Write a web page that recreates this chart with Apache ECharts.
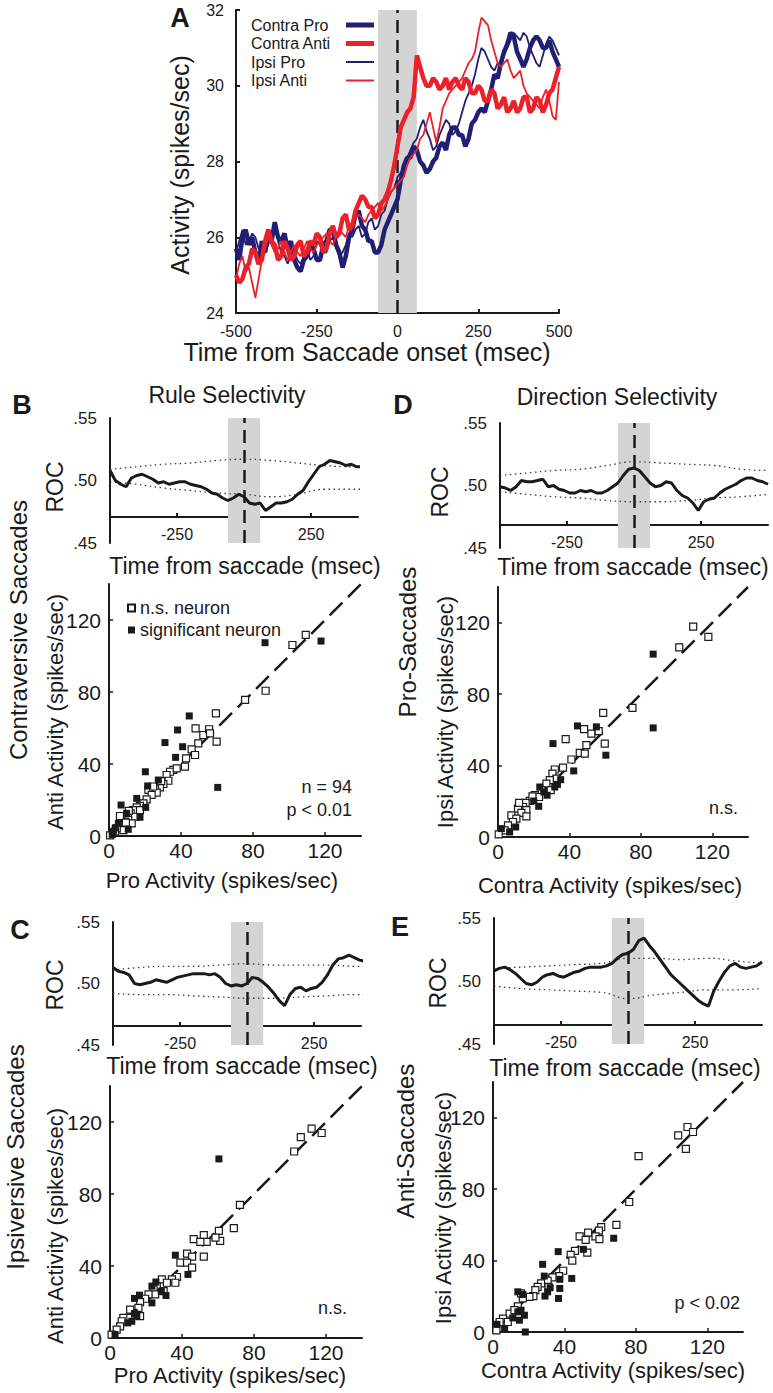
<!DOCTYPE html>
<html><head><meta charset="utf-8">
<script src="https://cdn.jsdelivr.net/npm/echarts@6/dist/echarts.min.js"></script>
<style>html,body{margin:0;padding:0;background:#fff}#c{width:773px;height:1393px}</style>
</head><body><div id="c"></div>
<script>
// ---------------- DATA ----------------
// Panel A time base (ms, 10 ms steps)
const TA = [-500,-490,-480,-470,-460,-450,-440,-430,-420,-410,
 -400,-390,-380,-370,-360,-350,-340,-330,-320,-310,
 -300,-290,-280,-270,-260,-250,-240,-230,-220,-210,
 -200,-190,-180,-170,-160,-150,-140,-130,-120,-110,
 -100,-90,-80,-70,-60,-50,-40,-30,-20,-10,
 0,10,20,30,40,50,60,70,80,90,
 100,110,120,130,140,150,160,170,180,190,
 200,210,220,230,240,250,260,270,280,290,
 300,310,320,330,340,350,360,370,380,390,
 400,410,420,430,440,450,460,470,480,490,
 500];
// ROC time base (ms, 20 ms steps)
const T = [-500,-480,-460,-440,-420,-400,-380,-360,-340,-320,-300,-280,-260,-240,-220,-200,-180,-160,-140,-120,-100,-80,-60,-40,-20,0,20,40,60,80,100,120,140,160,180,200,220,240,260,280,300,320,340,360,380,400,420,440,460,480,500];
const BOUND_T = [-500,-400,-300,-200,-100,0,100,200,300,400,500];
const SACCADE_WINDOW = [-60, 60];
const DIAG = [0, 140];

// Panel A: population activity (spikes/sec)
const CONTRA_PRO = [25.7,25.4,26.0,26.2,25.8,26.0,25.6,25.3,25.9,25.6,
 26.1,25.9,26.4,26.0,25.9,26.1,25.7,25.9,25.4,25.2,
 25.1,25.4,25.5,25.8,25.7,25.4,25.4,25.8,25.9,26.2,
 26.2,25.8,25.6,25.2,25.5,26.0,26.2,26.6,26.7,26.3,
 26.2,25.9,25.9,25.6,25.6,25.8,26.2,26.4,26.6,26.8,
 27.0,27.5,27.9,28.1,28.1,28.4,28.3,28.0,27.9,27.7,
 27.8,28.0,28.1,28.4,28.5,28.3,28.7,28.9,28.9,28.7,
 28.7,28.4,28.6,29.0,29.1,29.3,29.4,29.3,29.6,29.9,
 30.3,30.2,30.6,30.9,31.1,31.4,31.3,30.9,30.7,30.5,
 30.7,31.0,31.2,31.3,31.2,31.0,31.0,31.2,30.9,30.7,
 30.5];
const CONTRA_ANTI = [25.0,24.8,24.9,25.2,25.3,25.7,25.6,25.3,25.4,25.9,
 26.2,25.9,25.8,25.4,25.5,25.9,25.7,25.4,25.5,25.8,
 25.9,25.5,25.6,25.9,25.8,26.1,26.0,25.6,25.7,26.1,
 26.3,26.0,26.1,26.5,26.6,26.2,26.3,26.7,26.9,27.1,
 27.0,26.8,26.8,26.5,26.6,26.9,27.0,27.2,27.5,27.9,
 28.4,28.9,29.1,29.3,29.4,29.7,30.8,30.5,30.2,30.0,
 30.0,30.2,30.1,29.9,30.0,30.2,29.9,30.1,30.2,30.0,
 29.9,30.2,30.1,29.8,29.8,30.0,29.9,29.6,29.6,29.9,
 29.8,29.4,29.5,29.7,29.3,29.4,29.6,29.3,29.4,29.7,
 29.7,29.3,29.4,29.7,29.6,29.3,29.5,29.8,29.9,30.2,
 30.5];
const IPSI_PRO = [25.6,25.9,26.2,25.8,25.9,26.1,26.0,25.7,25.5,25.6,
 25.8,26.1,26.3,25.9,25.6,25.5,25.3,25.5,25.6,25.4,
 25.3,25.5,25.7,25.4,25.5,25.9,25.8,25.6,25.6,25.9,
 26.0,25.7,25.5,25.6,25.8,26.1,26.0,26.2,26.3,26.0,
 26.1,26.4,26.5,26.2,26.3,26.6,26.7,27.0,27.2,27.3,
 27.6,27.7,27.8,28.1,28.3,28.5,28.6,28.9,29.1,28.8,
 28.6,28.3,28.4,28.7,28.9,29.1,29.0,28.7,28.8,29.0,
 29.3,29.6,29.8,30.0,30.3,30.7,31.0,30.9,30.7,30.5,
 30.4,30.6,30.5,30.8,31.0,31.2,31.4,31.3,31.2,31.4,
 31.3,31.0,30.8,30.6,30.5,30.8,31.1,31.3,31.2,31.0,
 30.8];
const IPSI_ANTI = [24.9,25.3,25.5,25.1,25.2,24.8,24.4,24.9,25.4,25.7,
 26.0,25.8,25.6,25.7,25.9,25.6,25.4,25.6,25.8,25.6,
 25.5,25.7,25.9,25.7,25.6,25.8,25.9,26.0,26.1,25.9,
 25.8,26.0,26.2,26.1,26.0,26.3,26.4,26.5,26.6,26.5,
 26.4,26.6,26.7,26.8,26.9,26.7,26.8,27.0,27.2,27.3,
 27.4,27.5,27.6,27.9,28.1,28.2,28.3,28.6,28.7,29.0,
 29.3,28.9,28.5,28.9,29.4,29.6,29.8,29.9,30.0,30.1,
 30.2,30.4,30.6,30.7,30.9,31.4,31.8,31.7,31.6,31.2,
 30.9,30.6,30.5,30.6,30.7,30.4,30.2,30.3,30.4,30.0,
 29.8,29.7,29.6,29.5,29.4,29.7,29.9,29.6,29.2,29.1,
 30.1];

// ROC curves
const B_ROC = [0.508,0.500,0.497,0.495,0.502,0.504,0.505,0.503,0.501,0.498,
 0.499,0.497,0.498,0.499,0.499,0.497,0.496,0.495,0.493,0.490,
 0.489,0.486,0.484,0.486,0.489,
 0.487,
 0.482,0.481,0.482,0.476,0.479,0.482,0.482,0.483,0.485,0.489,
 0.492,0.499,0.505,0.511,0.513,0.516,0.515,0.514,0.512,0.513,
 0.511,0.511,0.510,0.510,null];
const B_UP = [0.509,0.511,0.513,0.514,0.516,0.517,0.516,0.514,0.512,0.511,0.511];
const B_LO = [0.499,0.497,0.494,0.492,0.490,0.489,0.487,0.489,0.493,0.493,0.493];

const D_ROC = [0.499,0.498,0.496,0.499,0.504,0.503,0.503,0.504,0.505,0.499,
 0.500,0.497,0.496,0.494,0.494,0.496,0.495,0.496,0.494,0.494,
 0.496,0.499,0.502,0.508,0.513,
 0.514,
 0.512,0.507,0.502,0.499,0.500,0.503,0.502,0.496,0.492,0.490,
 0.486,0.480,0.487,0.489,0.490,0.494,0.497,0.499,0.501,0.504,
 0.506,0.506,0.504,0.503,0.501];
const D_UP = [0.508,0.510,0.512,0.513,0.516,0.519,0.518,0.517,0.516,0.513,0.512];
const D_LO = [0.495,0.493,0.491,0.490,0.488,0.487,0.487,0.488,0.490,0.491,0.493];

const C_ROC = [0.513,0.510,0.509,0.507,0.500,0.499,0.500,0.501,0.503,0.502,
 0.501,0.503,0.505,0.506,0.507,0.508,0.508,0.508,0.507,0.508,
 0.505,0.500,0.498,0.499,0.498,
 0.500,
 0.505,0.504,0.501,0.497,0.492,0.486,0.482,0.491,0.496,0.497,
 0.494,0.496,0.497,0.501,0.507,0.515,0.520,0.521,0.523,0.521,
 0.519,0.518,0.520,0.520,null];
const C_UP = [0.511,0.513,0.514,0.514,0.515,0.516,0.515,0.515,0.515,0.514,0.514];
const C_LO = [0.492,0.491,0.491,0.490,0.489,0.488,0.488,0.489,0.490,0.491,0.491];

const E_ROC = [0.508,0.510,0.511,0.509,0.506,0.502,0.498,0.497,0.499,0.503,
 0.505,0.506,0.504,0.503,0.505,0.507,0.508,0.510,0.511,0.511,
 0.511,0.512,0.514,0.518,0.521,
 0.522,
 0.525,0.532,0.534,0.528,0.523,0.517,0.511,0.505,0.501,0.497,
 0.493,0.489,0.485,0.482,0.480,0.492,0.500,0.507,0.512,0.514,
 0.511,0.510,0.511,0.512,0.515];
const E_UP = [0.510,0.511,0.512,0.513,0.514,0.518,0.518,0.517,0.518,0.516,0.514];
const E_LO = [0.496,0.494,0.493,0.492,0.491,0.486,0.489,0.491,0.493,0.493,0.494];

// Scatter: [x, y] spikes/sec
const B_SIG = [[86.7,107.4],[117.8,108.3],[44.6,66.7],[38.1,58.9],[31.1,51.9],[40.9,49.6],[37.0,43.7],[60.4,27.0],[20.2,35.7],[21.5,27.8],[27.4,31.1],[6.7,17.2],[15.4,20.9],[20.4,15.9],[17.2,10.4],[10.7,3.7],[5.2,7.0],[2.4,2.4],[9.8,12.6],[3.5,4.5],[1.8,0.8]];
const B_NS = [[109.3,111.7],[101.9,106.1],[87.0,80.7],[75.6,75.6],[59.4,68.1],[48.1,59.8],[52.4,56.1],[55.6,59.3],[56.1,57.0],[59.8,52.4],[49.6,51.5],[45.9,48.1],[47.8,45.0],[42.8,43.1],[42.2,38.5],[35.7,36.7],[33.9,35.7],[32.0,33.9],[33.0,30.7],[30.2,28.9],[28.3,27.0],[25.6,25.9],[21.9,25.6],[26.5,24.1],[23.7,22.8],[20.9,20.4],[19.1,18.1],[17.2,16.7],[15.4,15.9],[13.5,14.4],[12.0,12.6],[14.4,10.7],[10.7,8.9],[8.9,8.0],[7.0,6.1],[12.6,7.0],[8.0,3.3],[4.3,4.3],[0.6,0.4],[3.3,2.4],[6.1,11.1],[9.4,7.4],[17.2,14.4],[37.6,37.6],[29.0,30.5],[24.5,27.5],[11.0,14.0]];
const D_SIG = [[86.9,102.4],[86.9,61.1],[44.5,62.2],[55.1,61.7],[30.8,52.3],[60.4,45.8],[42.4,37.0],[35.1,32.1],[33.3,29.5],[23.4,28.0],[27.5,23.4],[22.8,17.2],[25.6,25.2],[9.9,5.6],[6.5,2.8],[1.9,4.7],[20.0,20.2],[31.8,28.0]];
const D_NS = [[109.3,117.8],[117.8,112.1],[101.5,106.2],[75.3,72.3],[58.9,69.5],[48.2,60.4],[52.3,57.9],[56.4,59.3],[59.8,52.3],[49.5,51.4],[37.9,54.8],[45.8,47.1],[48.6,46.7],[41.1,43.4],[36.4,38.9],[31.8,37.8],[30.5,35.5],[32.7,32.7],[29.0,31.8],[27.1,29.9],[29.5,26.2],[24.3,26.2],[20.6,23.4],[23.0,22.4],[17.8,20.2],[15.5,19.1],[14.0,16.8],[11.2,15.9],[15.9,15.0],[13.1,13.5],[7.5,12.1],[10.3,10.3],[8.4,8.4],[15.9,11.6],[5.6,6.5],[3.7,3.7],[0.4,1.5],[11.8,19.1],[19.3,22.8]];
const C_SIG = [[60.5,99.5],[36.3,46.0],[43.3,35.3],[16.4,23.8],[13.6,22.0],[23.3,19.5],[25.5,31.1],[23.3,28.8],[28.5,26.0],[31.1,23.6],[9.9,8.4],[12.1,9.3],[14.9,12.1],[13.6,13.6],[2.8,1.9]];
const C_NS = [[102.3,103.6],[106.0,111.6],[112.0,116.3],[117.6,113.9],[72.2,74.0],[68.8,61.0],[60.5,59.5],[61.2,54.0],[58.6,55.8],[46.5,54.9],[52.1,57.1],[53.7,53.4],[50.2,53.4],[52.1,45.2],[42.8,46.9],[45.6,45.2],[39.1,41.9],[42.8,41.9],[45.6,39.1],[37.2,33.9],[34.4,32.6],[36.3,30.7],[28.8,32.6],[31.6,30.7],[26.0,28.8],[24.2,27.0],[25.1,24.2],[21.4,24.2],[19.5,21.8],[16.7,19.9],[15.8,16.7],[13.0,14.0],[16.7,12.1],[11.2,15.8],[10.2,11.2],[7.4,11.2],[6.5,9.3],[5.6,6.5],[3.7,4.7],[0.9,1.9],[29.8,26.0]];
const E_SIG = [[36.5,45.0],[27.8,37.9],[50.6,46.3],[67.6,52.5],[44.1,30.0],[37.4,29.5],[37.4,24.4],[36.7,18.8],[28.7,31.3],[29.1,20.1],[30.6,22.5],[13.9,22.5],[16.7,21.0],[17.6,9.4],[18.1,0.0],[11.1,7.9],[13.9,11.3],[15.7,12.2],[14.8,6.6],[2.2,4.3],[6.5,1.9],[32.0,24.8]];
const E_NS = [[103.7,110.1],[108.9,114.8],[112.0,112.0],[108.0,102.6],[81.5,98.5],[76.3,72.8],[69.1,60.0],[60.6,58.7],[59.3,56.8],[53.3,55.7],[57.4,53.5],[48.5,53.5],[51.9,51.6],[59.6,52.0],[52.8,44.5],[45.9,45.4],[43.5,43.2],[44.4,40.0],[39.3,34.3],[37.0,31.3],[33.3,30.6],[30.6,28.7],[26.9,27.2],[25.0,25.3],[23.7,23.5],[22.6,20.1],[20.4,19.7],[16.7,18.8],[15.7,21.6],[13.9,14.4],[9.3,10.3],[12.0,12.2],[5.6,7.5],[3.7,5.6],[1.9,0.9],[8.3,5.6],[31.1,25.3]];

const A_TICKS_Y = [24, 32, 2];
const ROC_TICKS = [-250, 250];
const ACT_TICKS = [0, 40, 80, 120];

// ---------------- STYLE / BUILD ----------------
const FONT = '"Liberation Sans", Arial, Helvetica, sans-serif';
const INK = '#1a1a1a';
const NAVY = '#211f73';
const RED = '#ea2128';
const BAND = '#d4d4d4';
const THICK = 4.5, THIN = 1.8;

const zip = (xs, ys) => xs.map((x, i) => [x, ys[i]]);
const grids = [], xAxes = [], yAxes = [], series = [], graphics = [];

function txt(x, y, text, size, o) {
  o = o || {};
  graphics.push({ type: 'text', x: x, y: y, rotation: o.rot ? Math.PI / 2 : 0, silent: true,
    style: { text: text, fontSize: size, fontFamily: FONT, fontWeight: o.bold ? 'bold' : 'normal',
      fill: INK, align: o.align || 'center', verticalAlign: 'middle' } });
}
function markers(g) {
  return { type: 'line', xAxisIndex: g, yAxisIndex: g, data: [], silent: true, z: 1,
    markArea: { silent: true, itemStyle: { color: BAND }, data: [[{ xAxis: SACCADE_WINDOW[0] }, { xAxis: SACCADE_WINDOW[1] }]] },
    markLine: { silent: true, symbol: 'none', label: { show: false }, z: 2,
      lineStyle: { color: INK, type: [13, 7], width: 2.5 }, data: [{ xAxis: 0 }] } };
}
const axisLineStyle = { show: true, onZero: false, lineStyle: { color: INK, width: 2 } };

// Panel A
(function () {
  const g = grids.length;
  grids.push({ left: 236, top: 10, width: 323, height: 303 });
  xAxes.push({ gridIndex: g, type: 'value', min: -500, max: 500, interval: 250, axisLine: axisLineStyle,
    axisTick: { show: true, inside: true, length: 4, lineStyle: { color: INK, width: 2 } },
    axisLabel: { color: INK, fontFamily: FONT, fontSize: 16, margin: 10 }, splitLine: { show: false } });
  yAxes.push({ gridIndex: g, type: 'value', min: A_TICKS_Y[0], max: A_TICKS_Y[1], interval: A_TICKS_Y[2], axisLine: axisLineStyle,
    axisTick: { show: true, inside: true, length: 4, lineStyle: { color: INK, width: 2 } },
    axisLabel: { color: INK, fontFamily: FONT, fontSize: 16, margin: 12 }, splitLine: { show: false } });
  series.push(markers(g));
  const mk = (name, vals, color, w, z) => ({ name: name, type: 'line', xAxisIndex: g, yAxisIndex: g, data: zip(TA, vals),
    symbol: 'none', showSymbol: false, lineStyle: { color: color, width: w }, itemStyle: { color: color }, z: z });
  series.push(mk('Contra Pro', CONTRA_PRO, NAVY, THICK, 3));
  series.push(mk('Ipsi Pro', IPSI_PRO, NAVY, THIN, 4));
  series.push(mk('Contra Anti', CONTRA_ANTI, RED, THICK, 5));
  series.push(mk('Ipsi Anti', IPSI_ANTI, RED, THIN, 6));
})();

function rocPanel(c) {
  const g = grids.length;
  grids.push({ left: c.left, top: c.top, width: c.width, height: c.height });
  xAxes.push({ gridIndex: g, type: 'value', min: -500, max: c.xmax, interval: 250, position: 'bottom', offset: -c.off,
    axisLine: axisLineStyle,
    axisTick: { show: true, inside: true, length: 4, customValues: ROC_TICKS, lineStyle: { color: INK, width: 2 } },
    axisLabel: { customValues: ROC_TICKS, color: INK, fontFamily: FONT, fontSize: 16, margin: 9 }, splitLine: { show: false } });
  yAxes.push({ gridIndex: g, type: 'value', min: 0.45, max: 0.55, interval: 0.05, axisLine: axisLineStyle,
    axisTick: { show: false },
    axisLabel: { color: INK, fontFamily: FONT, fontSize: 17, margin: 13, formatter: v => v.toFixed(2).replace(/^0/, '') },
    splitLine: { show: false } });
  series.push(markers(g));
  const dotted = vals => ({ type: 'line', xAxisIndex: g, yAxisIndex: g, data: zip(BOUND_T, vals), smooth: true, clip: false,
    symbol: 'none', silent: true, lineStyle: { color: '#3a3a3a', width: 1.3, type: [1.5, 3.5] }, z: 3 });
  series.push(dotted(c.up));
  series.push(dotted(c.lo));
  series.push({ type: 'line', xAxisIndex: g, yAxisIndex: g, data: zip(T, c.roc), clip: false, symbol: 'none', silent: true,
    lineStyle: { color: INK, width: 3 }, z: 4 });
}
function scatterPanel(c) {
  const g = grids.length;
  grids.push({ left: c.left, top: c.top, width: c.size, height: c.size });
  xAxes.push({ gridIndex: g, type: 'value', min: DIAG[0], max: DIAG[1], interval: 40, axisLine: axisLineStyle,
    axisTick: { show: true, inside: true, length: 4, customValues: ACT_TICKS.slice(1), lineStyle: { color: INK, width: 1.5 } },
    axisLabel: { customValues: ACT_TICKS, color: INK, fontFamily: FONT, fontSize: 21, margin: 4 }, splitLine: { show: false } });
  yAxes.push({ gridIndex: g, type: 'value', min: DIAG[0], max: DIAG[1], interval: 40, axisLine: axisLineStyle,
    axisTick: { show: true, inside: true, length: 4, customValues: ACT_TICKS.slice(1), lineStyle: { color: INK, width: 1.5 } },
    axisLabel: { customValues: ACT_TICKS, color: INK, fontFamily: FONT, fontSize: 21, margin: 8 }, splitLine: { show: false } });
  series.push({ type: 'line', xAxisIndex: g, yAxisIndex: g, data: [[DIAG[0], DIAG[0]], [DIAG[1], DIAG[1]]], symbol: 'none', silent: true,
    lineStyle: { color: INK, width: 2.5, type: [18, 8] }, z: 1 });
  series.push({ name: 'n.s. neuron', type: 'scatter', xAxisIndex: g, yAxisIndex: g, data: c.ns, symbol: 'rect', symbolSize: 7, clip: false,
    itemStyle: { color: '#fff', borderColor: INK, borderWidth: 1.2, opacity: 1 }, z: 3 });
  series.push({ name: 'significant neuron', type: 'scatter', xAxisIndex: g, yAxisIndex: g, data: c.sig, symbol: 'rect', symbolSize: 7, clip: false,
    itemStyle: { color: INK, borderColor: INK, borderWidth: 0, opacity: 1 }, z: 4 });
}

rocPanel({ left: 110, top: 418, width: 248, height: 125, xmax: 425, off: 26, roc: B_ROC, up: B_UP, lo: B_LO });
scatterPanel({ left: 109, top: 584, size: 252, ns: B_NS, sig: B_SIG });
rocPanel({ left: 500, top: 423, width: 268, height: 125, xmax: 500, off: 23, roc: D_ROC, up: D_UP, lo: D_LO });
scatterPanel({ left: 498, top: 587, size: 250, ns: D_NS, sig: D_SIG });
rocPanel({ left: 113, top: 922, width: 248, height: 123, xmax: 425, off: 19, roc: C_ROC, up: C_UP, lo: C_LO });
scatterPanel({ left: 110, top: 1086, size: 252, ns: C_NS, sig: C_SIG });
rocPanel({ left: 494, top: 918, width: 268, height: 126, xmax: 500, off: 19, roc: E_ROC, up: E_UP, lo: E_LO });
scatterPanel({ left: 493, top: 1082, size: 250, ns: E_NS, sig: E_SIG });

// Texts
txt(180, 18, 'A', 27, { bold: true });
txt(180, 165, 'Activity (spikes/sec)', 25, { rot: true });
txt(367, 352, 'Time from Saccade onset (msec)', 25);

txt(22, 405, 'B', 27, { bold: true });
txt(227, 395, 'Rule Selectivity', 23);
txt(55, 487, 'ROC', 23, { rot: true });
txt(245, 566, 'Time from saccade (msec)', 23);
txt(18, 630, 'Contraversive Saccades', 24, { rot: true });
txt(55, 712, 'Anti Activity (spikes/sec)', 22, { rot: true });
txt(222, 880, 'Pro Activity (spikes/sec)', 22);
txt(352, 787, 'n = 94', 18, { align: 'right' });
txt(352, 810, 'p < 0.01', 18, { align: 'right' });

txt(403, 405, 'D', 27, { bold: true });
txt(617, 397, 'Direction Selectivity', 23);
txt(440, 492, 'ROC', 23, { rot: true });
txt(633, 567, 'Time from saccade (msec)', 23);
txt(407, 642, 'Pro-Saccades', 24, { rot: true });
txt(445, 712, 'Ipsi Activity (spikes/sec)', 22, { rot: true });
txt(610, 885, 'Contra Activity (spikes/sec)', 22);
txt(738, 808, 'n.s.', 18, { align: 'right' });

txt(20, 930, 'C', 27, { bold: true });
txt(55, 985, 'ROC', 23, { rot: true });
txt(242, 1066, 'Time from saccade (msec)', 23);
txt(15, 1157, 'Ipsiversive Saccades', 24, { rot: true });
txt(55, 1226, 'Anti Activity (spikes/sec)', 22, { rot: true });
txt(230, 1375, 'Pro Activity (spikes/sec)', 22);
txt(347, 1308, 'n.s.', 18, { align: 'right' });

txt(400, 927, 'E', 27, { bold: true });
txt(438, 983, 'ROC', 23, { rot: true });
txt(625, 1068, 'Time from saccade (msec)', 23);
txt(405, 1141, 'Anti-Saccades', 24, { rot: true });
txt(443, 1208, 'Ipsi Activity (spikes/sec)', 22, { rot: true });
txt(613, 1370, 'Contra Activity (spikes/sec)', 22);
txt(740, 1303, 'p < 0.02', 18, { align: 'right' });

const chart = echarts.init(document.getElementById('c'), null, { renderer: 'svg', width: 773, height: 1393 });
chart.setOption({
  backgroundColor: '#fff',
  animation: false,
  textStyle: { fontFamily: FONT, color: INK },
  grid: grids,
  xAxis: xAxes,
  yAxis: yAxes,
  legend: [
    { orient: 'vertical', left: 246, top: 12, align: 'right', itemWidth: 28, itemHeight: 12, itemGap: 2.5,
      selectedMode: false,
      data: [
        { name: 'Contra Pro', lineStyle: { width: 5, color: NAVY } },
        { name: 'Contra Anti', lineStyle: { width: 5, color: RED } },
        { name: 'Ipsi Pro', lineStyle: { width: 2, color: NAVY } },
        { name: 'Ipsi Anti', lineStyle: { width: 2, color: RED } }
      ],
      itemStyle: { opacity: 0 },
      formatter: '{a|{name}}',
      textStyle: { fontSize: 16, color: INK, fontFamily: FONT, rich: { a: { width: 90, fontSize: 16, color: INK, fontFamily: FONT, align: 'left' } } } },
    { orient: 'vertical', left: 122, top: 594, itemWidth: 7, itemHeight: 7, itemGap: 4, icon: 'rect',
      selectedMode: false, data: ['n.s. neuron', 'significant neuron'],
      textStyle: { fontSize: 18, color: INK, fontFamily: FONT } }
  ],
  graphic: graphics,
  series: series
});
</script>
</body></html>
